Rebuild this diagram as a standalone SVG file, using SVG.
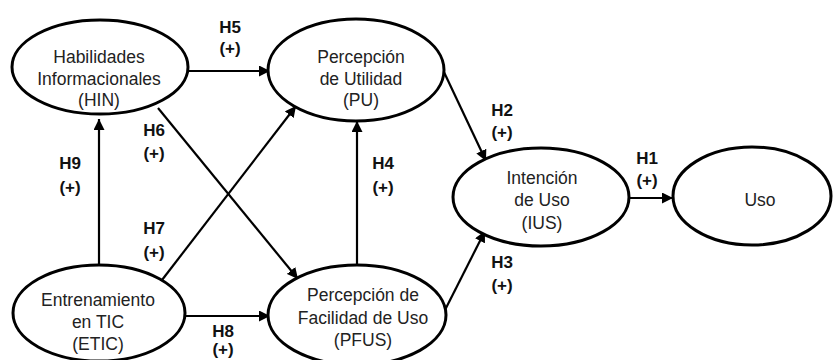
<svg xmlns="http://www.w3.org/2000/svg" width="833" height="360" viewBox="0 0 833 360">
<style>
.node ellipse{fill:#fff;stroke:#000;stroke-width:3}
.node text{font-family:"Liberation Sans",Arial,sans-serif;font-size:17.5px;fill:#222;text-anchor:middle}
.lbl{font-family:"Liberation Sans",Arial,sans-serif;font-size:17px;font-weight:bold;fill:#111;text-anchor:middle}
.conn line{stroke:#000;stroke-width:2.2;marker-end:url(#ah)}
</style>
<defs>
<marker id="ah" viewBox="0 0 10 10" refX="10" refY="5" markerWidth="5" markerHeight="5" orient="auto" markerUnits="strokeWidth">
<path d="M0,0 L10,5 L0,10 z" fill="#000"/>
</marker>
</defs>
<rect width="833" height="360" fill="#fff"/>
<g id="connectors" class="conn">
<line x1="187" y1="71" x2="270" y2="71"/>
<line x1="99" y1="265" x2="99" y2="119"/>
<line x1="158" y1="108" x2="298" y2="279"/>
<line x1="162" y1="280" x2="296" y2="106"/>
<line x1="357" y1="265" x2="357" y2="121"/>
<line x1="185" y1="316" x2="270" y2="316"/>
<line x1="443" y1="70" x2="486" y2="161"/>
<line x1="445" y1="310" x2="485" y2="231"/>
<line x1="630" y1="198" x2="673" y2="198"/>
</g>
<g id="HIN" class="node">
<ellipse cx="100" cy="67" rx="88" ry="47"/>
<text x="99" y="63">Habilidades</text>
<text x="99" y="85">Informacionales</text>
<text x="99" y="106">(HIN)</text>
</g>
<g id="PU" class="node">
<ellipse cx="356" cy="70" rx="88" ry="51"/>
<text x="361" y="63">Percepción</text>
<text x="361" y="85">de Utilidad</text>
<text x="361" y="106">(PU)</text>
</g>
<g id="IUS" class="node">
<ellipse cx="541" cy="197" rx="88" ry="49"/>
<text x="542" y="184">Intención</text>
<text x="542" y="206">de Uso</text>
<text x="542" y="229">(IUS)</text>
</g>
<g id="USO" class="node">
<ellipse cx="752" cy="196" rx="79" ry="49"/>
<text x="760" y="206">Uso</text>
</g>
<g id="ETIC" class="node">
<ellipse cx="99" cy="313" rx="86" ry="48"/>
<text x="98" y="306">Entrenamiento</text>
<text x="98" y="328">en TIC</text>
<text x="98" y="350">(ETIC)</text>
</g>
<g id="PFUS" class="node">
<ellipse cx="357" cy="315" rx="89" ry="50"/>
<text x="363" y="301">Percepción de</text>
<text x="363" y="324">Facilidad de Uso</text>
<text x="363" y="346">(PFUS)</text>
</g>
<g id="labels">
<text class="lbl" x="230" y="33">H5</text><text class="lbl" x="230" y="54">(+)</text>
<text class="lbl" x="154" y="136">H6</text><text class="lbl" x="154" y="159">(+)</text>
<text class="lbl" x="70" y="169">H9</text><text class="lbl" x="70" y="193">(+)</text>
<text class="lbl" x="383" y="169">H4</text><text class="lbl" x="383" y="193">(+)</text>
<text class="lbl" x="154" y="234">H7</text><text class="lbl" x="154" y="258">(+)</text>
<text class="lbl" x="223" y="337">H8</text><text class="lbl" x="223" y="355">(+)</text>
<text class="lbl" x="502" y="116">H2</text><text class="lbl" x="502" y="138">(+)</text>
<text class="lbl" x="647" y="164">H1</text><text class="lbl" x="647" y="186">(+)</text>
<text class="lbl" x="502" y="268">H3</text><text class="lbl" x="502" y="291">(+)</text>
</g>
</svg>
